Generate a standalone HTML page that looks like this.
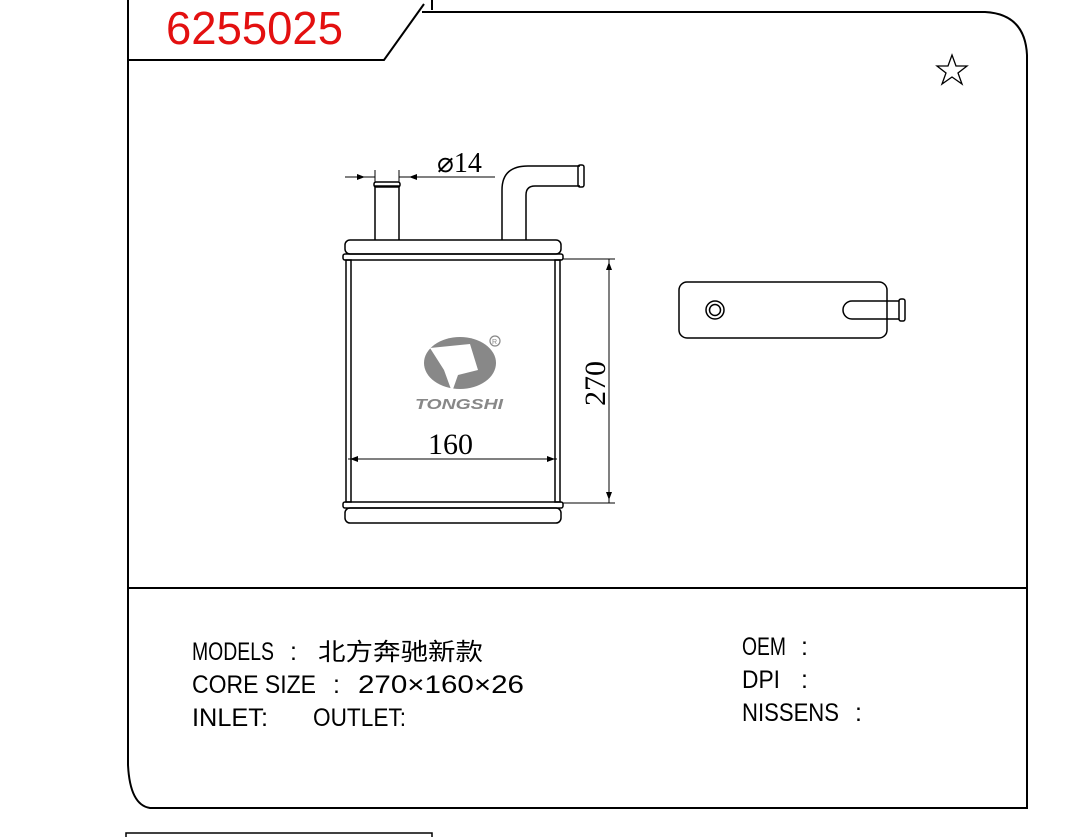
<!DOCTYPE html>
<html><head><meta charset="utf-8"><style>
body{margin:0;background:#fff;width:1071px;height:837px;overflow:hidden;position:relative}
svg{position:absolute;left:0;top:0}
</style></head><body>
<svg width="1071" height="837" viewBox="0 0 1071 837">
<g fill="none" stroke="#000" stroke-width="2">
<path d="M128 0 V765 Q130 805 150 808 H1027 V55 Q1025 14 985 12 H422"/>
<path d="M128 60 H384 L424 4"/>
<path d="M432 0 V10"/>
<path d="M128 588 H1027"/>
<path d="M126 837 V833 H432 V837" stroke-width="1.5"/>
</g>
<g fill="none" stroke="#000" stroke-width="1.5">
<rect x="345" y="240" width="216" height="14" rx="5"/>
<rect x="343" y="254" width="220" height="6" rx="2"/>
<rect x="346" y="260" width="5" height="242"/>
<rect x="555" y="260" width="5" height="242"/>
<rect x="343" y="502" width="220" height="6" rx="2"/>
<rect x="345" y="508" width="216" height="15" rx="5"/>
<path d="M375 240 V186 H399 V240"/>
<rect x="374" y="182" width="26" height="5" rx="2"/>
<path d="M502 240 V190 Q502 165 530 166 H580 M526 240 V195 Q526 186 535 186 H580"/>
<rect x="578" y="165" width="6" height="22" rx="2"/>
<path d="M345 177 H375 M399 177 H495 M375 170 V182 M399 170 V182" stroke-width="1"/>
<path d="M563 259 H615 M563 503 H615 M609 259 V503" stroke-width="1"/>
<path d="M348 459 H557" stroke-width="1"/>
<rect x="679" y="282" width="208" height="56" rx="8"/>
<circle cx="715" cy="310" r="9"/><circle cx="715" cy="310" r="5.5"/>
<path d="M852 301 H899 M852 319 H899 M852 301 A9 9 0 0 0 852 319"/>
<rect x="899" y="299" width="6" height="22" rx="2"/>
<path d="M952 55 L956 66 L967 66 L958 73 L962 84 L952 77 L942 84 L946 73 L937 66 L948 66 Z" stroke-width="1.3"/>
</g>
<g fill="#000">
<path d="M365 177 l-8 -3 v6z M409 177 l8 -3 v6z"/>
<path d="M609 262 l-3 8 h6z M609 500 l-3 -8 h6z"/>
<path d="M350 459 l8 -3 v6z M555 459 l-8 -3 v6z"/>
</g>
<ellipse cx="460" cy="363" rx="36" ry="26" fill="#888"/>
<path d="M430 348 L470 344 L478 370 L458 375 L452 392 L444 370 Z" fill="#fff"/>
<text x="415" y="409" font-family="Liberation Sans" font-style="italic" font-weight="bold" font-size="15" fill="#888" textLength="88" lengthAdjust="spacingAndGlyphs">TONGSHI</text>
<circle cx="495" cy="341" r="5" fill="none" stroke="#888" stroke-width="1.2"/>
<text x="492" y="344" font-size="7" fill="#888" font-family="Liberation Sans">R</text>
<g font-family="Liberation Serif" font-size="30" fill="#000">
<text x="437" y="172" font-size="28">⌀14</text>
<text x="428" y="454">160</text>
<text x="605" y="406" transform="rotate(-90 605 406)">270</text>
</g>
<text x="166" y="44" font-family="Liberation Sans" font-size="46" fill="#e31010" textLength="177" lengthAdjust="spacingAndGlyphs">6255025</text>
<g font-family="Liberation Sans, Noto Sans CJK SC, sans-serif" font-size="25" fill="#000">
<text x="192" y="660" textLength="82" lengthAdjust="spacingAndGlyphs">MODELS</text>
<text x="290" y="660">:</text>
<text x="318" y="660" textLength="165" lengthAdjust="spacingAndGlyphs" font-size="24">北方奔驰新款</text>
<text x="192" y="693" textLength="124" lengthAdjust="spacingAndGlyphs">CORE SIZE</text>
<text x="333" y="693">:</text>
<text x="358" y="693" textLength="166" lengthAdjust="spacingAndGlyphs">270×160×26</text>
<text x="192" y="726" textLength="76" lengthAdjust="spacingAndGlyphs">INLET:</text>
<text x="313" y="726" textLength="93" lengthAdjust="spacingAndGlyphs">OUTLET:</text>
<text x="742" y="655" textLength="44" lengthAdjust="spacingAndGlyphs">OEM</text>
<text x="801" y="655">:</text>
<text x="742" y="688" textLength="38" lengthAdjust="spacingAndGlyphs">DPI</text>
<text x="801" y="688">:</text>
<text x="742" y="721" textLength="97" lengthAdjust="spacingAndGlyphs">NISSENS</text>
<text x="855" y="721">:</text>
</g>
</svg>
</body></html>
